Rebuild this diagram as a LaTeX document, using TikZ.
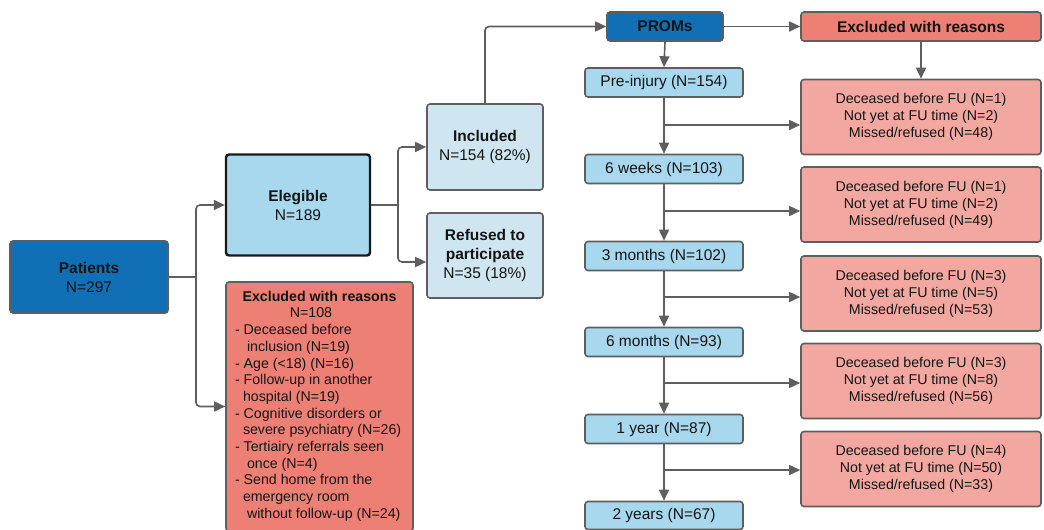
\documentclass[tikz,border=0pt]{standalone}
\usepackage{fontspec}
\setmainfont{Liberation Sans}
\usetikzlibrary{arrows.meta}
\definecolor{dblue}{HTML}{1170B5}
\definecolor{lblue}{HTML}{A8D8EE}
\definecolor{pblue}{HTML}{CFE6F1}
\definecolor{salmon}{HTML}{EE7F74}
\definecolor{psalmon}{HTML}{F2A8A0}
\definecolor{bord}{HTML}{5E5E5E}
\definecolor{txt}{HTML}{141414}
\newcommand\mainfs{\fontsize{15.5}{19}\selectfont}
\newcommand\smfs{\fontsize{14.2}{17}\selectfont}
\newcommand\lstfs{\fontsize{14.2}{16.7}\selectfont}
\begin{document}
\begin{tikzpicture}[x=1pt,y=-1pt,
  box/.style={draw=bord, line width=1.6pt, rounded corners=3pt, inner sep=0pt, align=center, text=txt, font=\mainfs},
  tbox/.style={box, fill=lblue, minimum width=158pt, minimum height=29pt},
  rbox/.style={box, fill=psalmon, minimum width=240pt, minimum height=75pt, font=\smfs},
  ln/.style={draw=bord, line width=1.6pt, rounded corners=4pt},
  arr/.style={ln, -{Triangle[length=11pt,width=10pt]}}]
\useasboundingbox (0,0) rectangle (1044,530);

% left part
\node[box, fill=dblue, minimum width=158pt, minimum height=72pt] (pat) at (89,277) {\textbf{Patients}\\N=297};
\node[box, fill=lblue, draw=black!90, line width=2.4pt, minimum width=144pt, minimum height=101pt] (eleg) at (298,205) {\textbf{Elegible}\\N=189};
\node[box, fill=pblue, minimum width=116pt, minimum height=86pt] (inc) at (485,147) {\textbf{Included}\\N=154 (82\%)};
\node[box, fill=pblue, minimum width=116pt, minimum height=85pt] (ref) at (485,255.5) {\raisebox{-5pt}{\begin{tabular}{@{}c@{}}\textbf{Refused to}\\\textbf{participate}\\N=35 (18\%)\end{tabular}}};
\node[box, fill=salmon, minimum width=187pt, minimum height=249pt, font=\lstfs] (exl) at (319.5,406.5) {\raisebox{-2pt}{\begin{tabular}{@{}l@{}}
\makebox[169pt][c]{\textbf{Excluded with reasons}}\\
\makebox[169pt][c]{N=108\hspace*{17pt}}\\
- Deceased before\\
\hspace*{12pt}inclusion (N=19)\\
- Age (<18) (N=16)\\
- Follow-up in another\\
\hspace*{8pt}hospital (N=19)\\
- Cognitive disorders or\\
\hspace*{8pt}severe psychiatry (N=26)\\
- Tertiairy referrals seen\\
\hspace*{12pt}once (N=4)\\
- Send home from the\\
\hspace*{8pt}emergency room\\
\hspace*{12pt}without follow-up (N=24)
\end{tabular}}};

% right part
\node[box, fill=dblue, minimum width=116pt, minimum height=29pt] (prom) at (665,26.5) {\textbf{PROMs}};
\node[box, fill=salmon, minimum width=240pt, minimum height=29pt] (ext) at (921,26.5) {\textbf{Excluded with reasons}};

\node[tbox] (t1) at (664,82.5) {Pre-injury (N=154)};
\node[tbox] (t2) at (664,169) {6 weeks (N=103)};
\node[tbox] (t3) at (664,256) {3 months (N=102)};
\node[tbox] (t4) at (664,342) {6 months (N=93)};
\node[tbox] (t5) at (664,429) {1 year (N=87)};
\node[tbox, minimum height=28pt] (t6) at (664,515.5) {2 years (N=67)};

\node[rbox] (r1) at (921,117) {Deceased before FU (N=1)\\Not yet at FU time (N=2)\\Missed/refused (N=48)};
\node[rbox] (r2) at (921,204.5) {Deceased before FU (N=1)\\Not yet at FU time (N=2)\\Missed/refused (N=49)};
\node[rbox] (r3) at (921,293.5) {Deceased before FU (N=3)\\Not yet at FU time (N=5)\\Missed/refused (N=53)};
\node[rbox] (r4) at (921,381) {Deceased before FU (N=3)\\Not yet at FU time (N=8)\\Missed/refused (N=56)};
\node[rbox] (r5) at (921,469) {Deceased before FU (N=4)\\Not yet at FU time (N=50)\\Missed/refused (N=33)};

% connectors left
\coordinate (j1) at (196,277);
\draw[ln] (pat.east) -- (j1);
\draw[arr] (j1) |- (eleg.west);
\draw[arr] (j1) |- (exl.west);
\coordinate (j2) at (398,205);
\draw[ln] (eleg.east) -- (j2);
\draw[arr] (j2) |- (inc.west);
\draw[arr] (j2) |- ([yshift=-6.5pt]ref.west);
\draw[arr] (inc.north) |- (prom.west);

% connectors right
\draw[arr] (prom.east) -- (ext.west);
\draw[arr] (ext.south) -- (r1.north);
\draw[arr] (prom.south) -- (t1.north);
\draw[arr] (t1.south) -- (t2.north);
\draw[arr] (t2.south) -- (t3.north);
\draw[arr] (t3.south) -- (t4.north);
\draw[arr] (t4.south) -- (t5.north);
\draw[arr] (t5.south) -- (t6.north);
\coordinate (b1) at (664,125);
\coordinate (b2) at (664,211);
\coordinate (b3) at (664,297);
\coordinate (b4) at (664,383);
\coordinate (b5) at (664,470);
\draw[arr] (b1) -- (b1 -| r1.west);
\draw[arr] (b2) -- (b2 -| r2.west);
\draw[arr] (b3) -- (b3 -| r3.west);
\draw[arr] (b4) -- (b4 -| r4.west);
\draw[arr] (b5) -- (b5 -| r5.west);
\end{tikzpicture}
\end{document}
